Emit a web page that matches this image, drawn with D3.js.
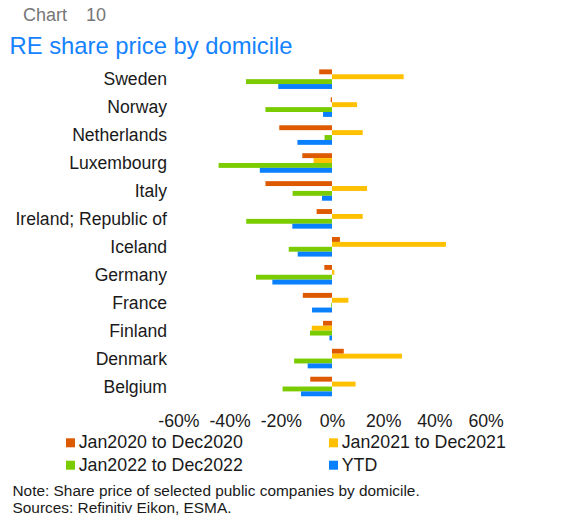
<!DOCTYPE html>
<html>
<head>
<meta charset="utf-8">
<script src="https://cdn.jsdelivr.net/npm/d3@7"></script>
<style>
  html, body { margin: 0; padding: 0; background: #fff; }
  svg { display: block; font-family: "Liberation Sans", Arial, sans-serif; }
</style>
</head>
<body>
<svg id="chart" width="575" height="518"></svg>
<script>
// ---- Data ----
const categories = ["Sweden", "Norway", "Netherlands", "Luxembourg", "Italy", "Ireland; Republic of",
                    "Iceland", "Germany", "France", "Finland", "Denmark", "Belgium"];
const seriesNames = ["Jan2020 to Dec2020", "Jan2021 to Dec2021", "Jan2022 to Dec2022", "YTD"];
const jan2020 = [-5, -0.5, -20.6, -11.6, -26, -6, 3.1, -3, -11.4, -3.5, 4.6, -8.5];
const jan2021 = [28, 9.8, 12, -7.2, 13.7, 12, 44.5, 0.9, 6.4, -7.9, 27.3, 9.2];
const jan2022 = [-33.6, -26, -2.9, -44.3, -15.4, -33.5, -16.9, -29.7, -0.3, -8.6, -14.8, -19.3];
const ytd     = [-21, -3.5, -13.5, -28.2, -3.9, -15.5, -13.4, -23.3, -7.8, -1, -9.5, -12.1];
const tickValues = [-60, -40, -20, 0, 20, 40, 60];
const colors = ["#DD5A00", "#FFC000", "#7ACC00", "#0A80FF"];

const seriesValues = [jan2020, jan2021, jan2022, ytd];
const rows = categories.map((c, i) => ({ cat: c, vals: seriesValues.map(s => s[i]) }));

// ---- Layout ----
const svg = d3.select("#chart");
const x = d3.scaleLinear().domain([-60, 60]).range([178.4, 485.6]);
const y = d3.scaleBand().domain(categories).range([65.2, 65.2 + 12 * 27.94])
  .paddingInner(0.3).paddingOuter(0.15);
const ySub = d3.scaleBand().domain(d3.range(4)).range([0, y.bandwidth()]);

// Header
svg.append("text").attr("x", 23).attr("y", 21).attr("fill", "#767676")
  .style("font-size", "18px").text("Chart");
svg.append("text").attr("x", 86).attr("y", 21).attr("fill", "#767676")
  .style("font-size", "18px").text("10");
svg.append("text").attr("x", 9.5).attr("y", 54).attr("fill", "#1582FF")
  .style("font-size", "23.8px").text("RE share price by domicile");

// Bars
const g = svg.append("g");
rows.forEach(r => {
  r.vals.forEach((v, k) => {
    g.append("rect")
      .attr("x", x(Math.min(0, v)))
      .attr("y", y(r.cat) + ySub(k))
      .attr("width", Math.abs(x(v) - x(0)))
      .attr("height", ySub.bandwidth())
      .attr("fill", colors[k]);
  });
});

// Category labels
svg.append("g").selectAll("text").data(categories).join("text")
  .attr("x", 167).attr("y", d => y(d) + y.bandwidth() / 2)
  .attr("dy", "0.35em").attr("text-anchor", "end")
  .attr("fill", "#1a1a1a").style("font-size", "17.6px").text(d => d);

// X axis (labels only)
const xAxis = d3.axisBottom(x).tickValues(tickValues).tickSize(0).tickPadding(0)
  .tickFormat(d => d + "%");
const ax = svg.append("g").attr("transform", "translate(0,414)").call(xAxis);
ax.select(".domain").remove();
ax.selectAll("text").attr("fill", "#1a1a1a").style("font-size", "17.7px")
  .style("font-family", "'Liberation Sans', Arial, sans-serif").attr("dy", "0.71em");

// Legend
const legPos = [[66, 448.3], [329, 448.3], [66, 470.7], [329, 470.7]];
const leg = svg.append("g");
seriesNames.forEach((n, k) => {
  const [lx, ly] = legPos[k];
  leg.append("rect").attr("x", lx).attr("y", ly - 10).attr("width", 9).attr("height", 9).attr("fill", colors[k]);
  leg.append("text").attr("x", lx + 12.7).attr("y", ly).attr("fill", "#1a1a1a")
    .style("font-size", "17.8px").text(n);
});

// Notes
svg.append("text").attr("x", 12.5).attr("y", 495.7).attr("fill", "#1a1a1a")
  .style("font-size", "15.4px").text("Note: Share price of selected public companies by domicile.");
svg.append("text").attr("x", 12.5).attr("y", 512.5).attr("fill", "#1a1a1a")
  .style("font-size", "15.4px").text("Sources: Refinitiv Eikon, ESMA.");
</script>
</body>
</html>
